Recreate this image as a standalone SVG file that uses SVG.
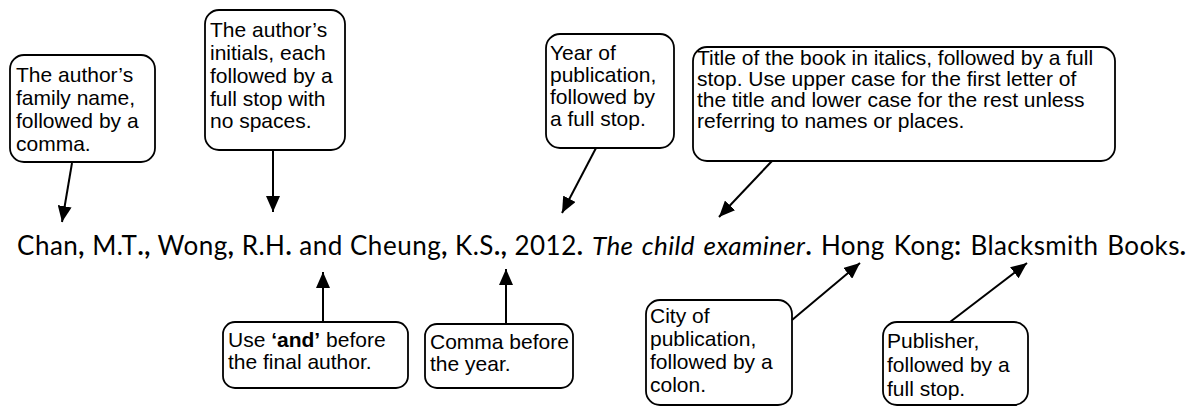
<svg xmlns="http://www.w3.org/2000/svg" width="1194" height="408" viewBox="0 0 1194 408">
<style>
.box{fill:#fff;stroke:#000;stroke-width:1.8}
.bt{font-family:"Liberation Sans",Arial,sans-serif;font-size:21px;fill:#000}
.cit{font-family:Lato,"Open Sans",sans-serif;font-size:26px;fill:#000}
.b{font-weight:bold}
.conn line{stroke:#000;stroke-width:2}
</style>
<defs>
<marker id="ah" markerUnits="userSpaceOnUse" markerWidth="16" markerHeight="14" refX="16" refY="7" orient="auto">
<path d="M0,0 L16,7 L0,14 z" fill="#000"/>
</marker>
</defs>
<rect width="1194" height="408" fill="#fff"/>

<g id="citation" class="cit">
<text x="17" y="255" textLength="566" lengthAdjust="spacing">Chan<tspan class="b">,</tspan> M.T<tspan class="b">.,</tspan> Wong<tspan class="b">,</tspan> R.H<tspan class="b">.</tspan> and Cheung<tspan class="b">,</tspan> K.S<tspan class="b">.,</tspan> 2012<tspan class="b">.</tspan></text>
<text x="592" y="255" textLength="594" lengthAdjust="spacing" word-spacing="2"><tspan font-style="italic">The child examiner</tspan><tspan class="b">.</tspan> Hong Kong<tspan class="b">:</tspan> Blacksmith Books<tspan class="b">.</tspan></text>
</g>

<g id="n-family">
<rect class="box" x="10" y="55" width="145" height="107" rx="14"/>
<text class="bt" x="16" y="82">The author’s</text>
<text class="bt" x="16" y="105">family name,</text>
<text class="bt" x="16" y="128">followed by a</text>
<text class="bt" x="16" y="151">comma.</text>
</g>

<g id="n-initials">
<rect class="box" x="205" y="10" width="140" height="140" rx="14"/>
<text class="bt" x="210" y="37">The author’s</text>
<text class="bt" x="210" y="60">initials, each</text>
<text class="bt" x="210" y="83">followed by a</text>
<text class="bt" x="210" y="106">full stop with</text>
<text class="bt" x="210" y="128">no spaces.</text>
</g>

<g id="n-year">
<rect class="box" x="546" y="34" width="128" height="114" rx="14"/>
<text class="bt" x="550" y="60">Year of</text>
<text class="bt" x="550" y="82">publication,</text>
<text class="bt" x="550" y="104">followed by</text>
<text class="bt" x="550" y="126">a full stop.</text>
</g>

<g id="n-title">
<rect class="box" x="693" y="47" width="422" height="114" rx="14"/>
<text class="bt" x="697" y="65">Title of the book in italics, followed by a full</text>
<text class="bt" x="697" y="86">stop. Use upper case for the first letter of</text>
<text class="bt" x="697" y="107">the title and lower case for the rest unless</text>
<text class="bt" x="697" y="128">referring to names or places.</text>
</g>

<g id="n-and">
<rect class="box" x="223" y="322" width="185" height="66" rx="12"/>
<text class="bt" x="228" y="347">Use <tspan class="b">‘and’</tspan> before</text>
<text class="bt" x="228" y="369">the final author.</text>
</g>

<g id="n-comma">
<rect class="box" x="425" y="324" width="148" height="64" rx="12"/>
<text class="bt" x="430" y="349">Comma before</text>
<text class="bt" x="430" y="371">the year.</text>
</g>

<g id="n-city">
<rect class="box" x="646" y="300" width="146" height="105" rx="14"/>
<text class="bt" x="650" y="323">City of</text>
<text class="bt" x="650" y="346">publication,</text>
<text class="bt" x="650" y="369">followed by a</text>
<text class="bt" x="650" y="392">colon.</text>
</g>

<g id="n-publisher">
<rect class="box" x="883" y="322" width="145" height="83" rx="14"/>
<text class="bt" x="887" y="348">Publisher,</text>
<text class="bt" x="887" y="372">followed by a</text>
<text class="bt" x="887" y="396">full stop.</text>
</g>

<g id="connectors" class="conn">
<line x1="72" y1="163" x2="62" y2="222" marker-end="url(#ah)"/>
<line x1="273" y1="150" x2="273" y2="212" marker-end="url(#ah)"/>
<line x1="596" y1="148" x2="562" y2="213" marker-end="url(#ah)"/>
<line x1="772" y1="161" x2="719" y2="217" marker-end="url(#ah)"/>
<line x1="323" y1="322" x2="323" y2="272" marker-end="url(#ah)"/>
<line x1="506" y1="324" x2="506" y2="269" marker-end="url(#ah)"/>
<line x1="792" y1="320" x2="860" y2="263" marker-end="url(#ah)"/>
<line x1="950" y1="322" x2="1027" y2="263" marker-end="url(#ah)"/>
</g>
</svg>
